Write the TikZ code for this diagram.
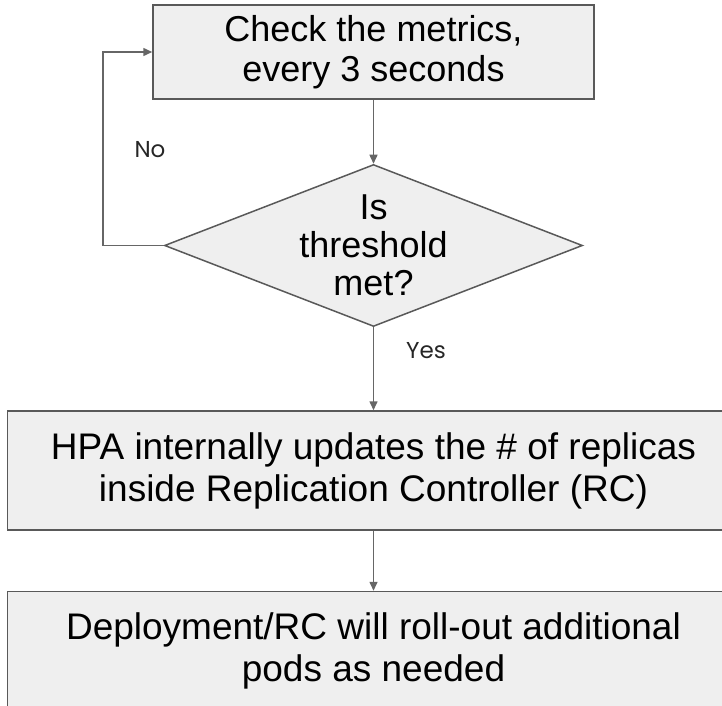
\documentclass[tikz,border=0pt]{standalone}
\usepackage{fontspec}
\setmainfont{Liberation Sans}
\newfontfamily\labelfont{Poppins}
\usepackage{tikz}
\usetikzlibrary{shapes.geometric,arrows.meta,positioning}

\definecolor{boxfill}{RGB}{239,239,239}
\definecolor{boxline}{RGB}{89,89,89}
\definecolor{arrline}{RGB}{102,102,102}

\begin{document}
\begin{tikzpicture}[x=1pt, y=1pt,
  pBox/.style={rectangle, minimum width=441pt, minimum height=94pt,
    inner sep=0pt, align=center,
    fill=boxfill, draw=boxline, line width=1.5pt,
    font=\fontsize{36}{40}\selectfont},
  pWide/.style={pBox, minimum width=732pt, minimum height=119pt,
    font=\fontsize{37}{42}\selectfont},
  pDia/.style={diamond, aspect=2.58,
    minimum width=418pt, minimum height=162pt, inner sep=0pt,
    fill=boxfill, draw=boxline, line width=1.5pt},
  pDiaText/.style={align=center, inner sep=0pt,
    font=\fontsize{36}{38}\selectfont},
  pLabel/.style={font=\labelfont\fontsize{23}{26}\selectfont,
    text=black!85},
  parr/.style={-{Triangle[length=9pt,width=8pt]},
    line width=1.5pt, color=arrline},
]
  \useasboundingbox (0,0) rectangle (722,705);
  \clip (0,0) rectangle (722,705);

  %% ── Flow nodes ──────────────────────────────────────────────
  \node[pBox] (check) at (373.5,653) {Check the metrics,\\every 3 seconds};
  \node[pDia, below=64pt of check,
    label={[pDiaText]center:{Is\\threshold\\met?}}] (thr) {};
  \node[pWide, below=83pt of thr] (hpa) {%
    HPA internally updates the \# of replicas\\
    inside Replication Controller (RC)};
  \node[pWide, below=60pt of hpa] (roll) {%
    Deployment/RC will roll-out additional\\
    pods as needed};

  %% ── Labels ──────────────────────────────────────────────────
  \node[pLabel] (no) at (150,555) {No};
  \node[pLabel] (yes) at (426,354) {Yes};

  %% ── Arrows ──────────────────────────────────────────────────
  \coordinate[left=61pt of thr.west] (loop);
  \draw[parr] (thr.west) -- (loop) |- (check.west);

  \foreach \f/\t in {check/thr, thr/hpa, hpa/roll}
    \draw[parr] (\f.south) -- (\t.north);

\end{tikzpicture}
\end{document}
